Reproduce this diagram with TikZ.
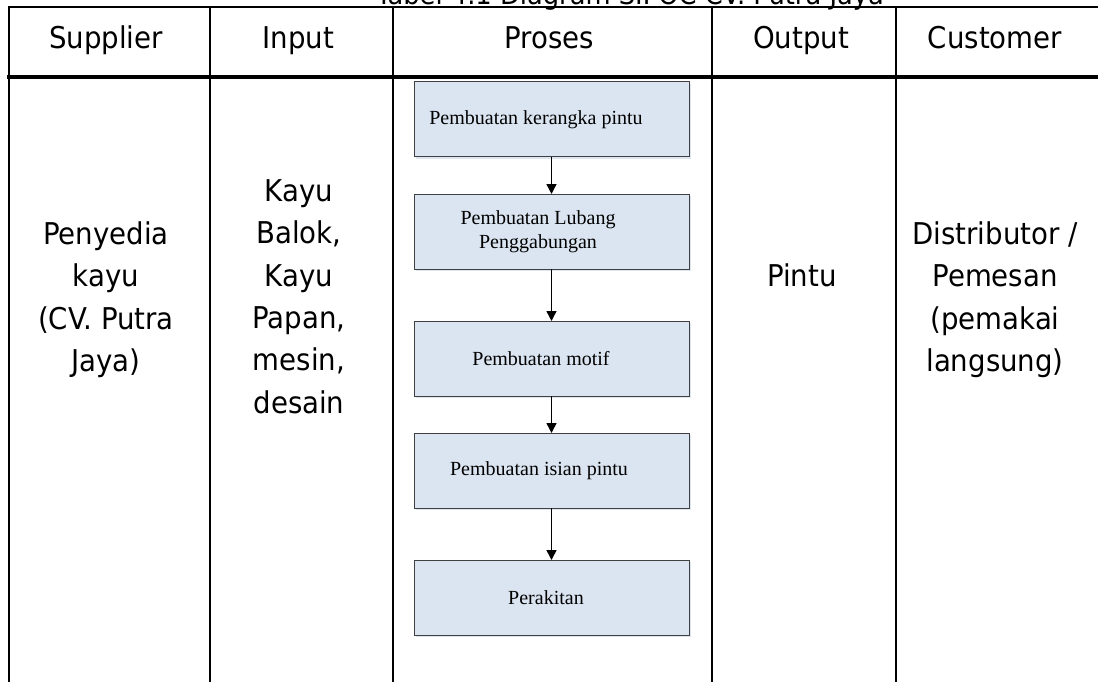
\documentclass[tikz,border=0pt]{standalone}
\usepackage{fontspec}
\setmainfont{Liberation Serif}
\newfontfamily\tablefont[FakeStretch=0.92]{DejaVu Sans}
\usetikzlibrary{positioning}
\usetikzlibrary{arrows.meta}
\usetikzlibrary{shadows}
\definecolor{procfill}{RGB}{219,229,241}
\definecolor{procdraw}{RGB}{64,64,64}
\definecolor{procshade}{RGB}{196,212,234}
\tikzset{
    % Filled triangle heads for the process flow
    >={Triangle[length=10pt,width=10pt]},
%
    % Rules of the SIPOC table
    table rule/.style={line width=2.7pt, line cap=rect},
    head rule/.style={line width=3.3pt, line cap=rect},
%
    % Table texts
    head text/.style={font=\tablefont\fontsize{30}{42}\selectfont, anchor=base},
    cell text/.style={font=\tablefont\fontsize{30}{42.3}\selectfont, align=center},
%
    % One step of the process column
    step box/.style={
        draw=procdraw, fill=procfill, line width=1pt,
        minimum width=275pt, minimum height=75pt,
        inner sep=0pt, outer sep=0pt,
        drop shadow={shadow xshift=1.5pt, shadow yshift=-2pt,
            fill=procshade, opacity=0.6}},
    step text/.style={font=\fontsize{20}{24}\selectfont, align=center},
    flow/.style={->, line width=1.5pt}}

\begin{document}
\begin{tikzpicture}[x=1pt, y=-1pt]
\useasboundingbox (0,0) rectangle (1098,682);

\node (title) [head text, font=\tablefont\fontsize{28}{30}\selectfont]
    at (630,5) {Tabel 4.1 Diagram SIPOC CV. Putra Jaya};

% table frame
\draw[table rule] (9,7) -- (1100,7);
\draw[head rule] (9,77) -- (1100,77);
\foreach \x in {9,210,393,712,896,1100}
    \draw[table rule] (\x,7) -- (\x,690);

% headings
\node (hsupplier) [head text] at (106,49) {Supplier};
\node (hinput) [head text] at (298.5,49) {Input};
\node (hproses) [head text] at (549,49) {Proses};
\node (houtput) [head text] at (801,49) {Output};
\node (hcustomer) [head text] at (995,49) {Customer};

% cells
\node (supplier) [cell text] at (106,299.6)
    {Penyedia\\kayu\\(CV. Putra\\Jaya)};
\node (input) [cell text] at (299,296.6)
    {Kayu\\Balok,\\Kayu\\Papan,\\mesin,\\desain};
\node (output) [cell text] at (802,275) {Pintu};
\node (customer) [cell text] at (995,299.6)
    {Distributor /\\Pemesan\\(pemakai\\langsung)};

% process steps
\node (frame) [step box,
    label={[step text, xshift=-15.5pt]center:Pembuatan kerangka pintu}]
    at (551.5,119.5) {};
\node (holes) [step box, below=37pt of frame,
    label={[step text, xshift=-13.5pt]center:Pembuatan Lubang\\Penggabungan}] {};
\node (motif) [step box, below=52pt of holes,
    label={[step text, xshift=-10.5pt]center:Pembuatan motif}] {};
\node (infill) [step box, below=37pt of motif,
    label={[step text, xshift=-12.5pt]center:Pembuatan isian pintu}] {};
\node (assembly) [step box, below=52pt of infill,
    label={[step text, xshift=-5.5pt]center:Perakitan}] {};

\draw[flow] (frame) -- (holes);
\draw[flow] (holes) -- (motif);
\draw[flow] (motif) -- (infill);
\draw[flow] (infill) -- (assembly);

\end{tikzpicture}
\end{document}
